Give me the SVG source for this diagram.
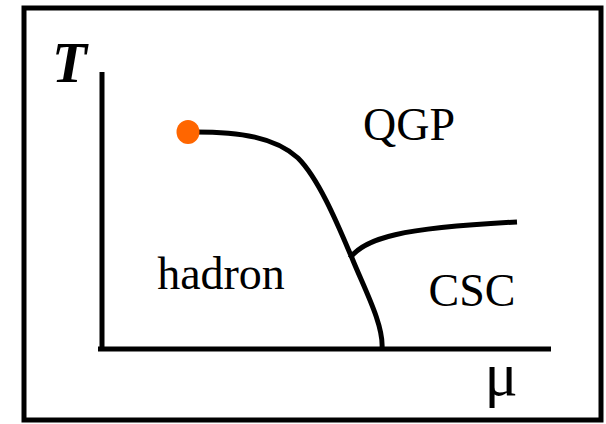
<svg xmlns="http://www.w3.org/2000/svg" width="606" height="424" viewBox="0 0 606 424">
<style>
.ln{fill:none;stroke:#000;stroke-width:5}
.lbl{font-family:"Liberation Serif","Times New Roman",serif;font-size:46px;fill:#000}
</style>
<rect x="0" y="0" width="606" height="424" fill="#fff"/>
<rect x="24" y="8" width="577" height="412" class="ln"/>
<g id="axes">
<line x1="102" y1="72" x2="102" y2="349" class="ln"/>
<line x1="98" y1="349" x2="551" y2="349" class="ln"/>
<text x="52" y="82" style="font-family:'Liberation Serif','Times New Roman',serif;font-size:57px;font-weight:bold;font-style:italic">T</text>
<text x="501" y="395" class="lbl" style="font-size:62px" text-anchor="middle">μ</text>
</g>
<g id="connectors">
<path class="ln" d="M188 132 L195 132 C240 132 275 137 298 158 C320 180 340 230 352 258 C364 288 384 325 382 349"/>
<path class="ln" d="M350 258 C365 238 400 228 517 222"/>
</g>
<g id="critical-point"><ellipse cx="188" cy="132" rx="11.5" ry="12" fill="#ff6600"/></g>
<g id="qgp"><text x="409" y="140" class="lbl" text-anchor="middle">QGP</text></g>
<g id="hadron"><text x="221" y="289" class="lbl" text-anchor="middle">hadron</text></g>
<g id="csc"><text x="472" y="306" class="lbl" text-anchor="middle">CSC</text></g>
</svg>
